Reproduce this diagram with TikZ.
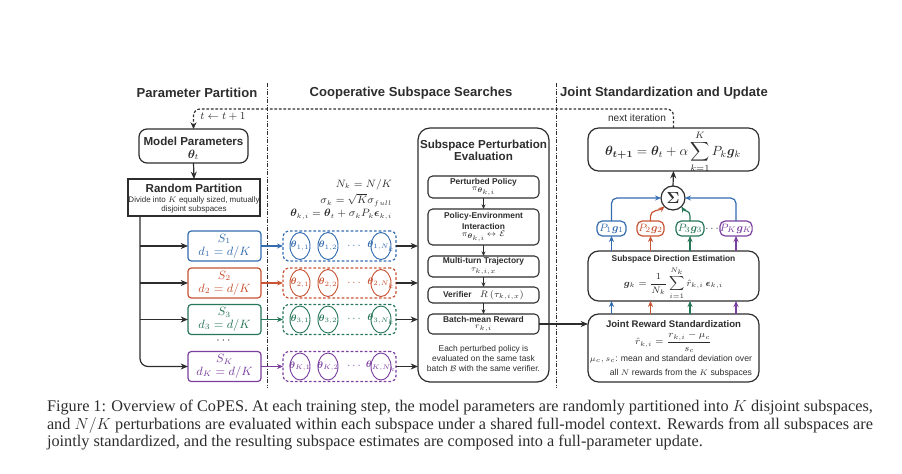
\documentclass[tikz,border=0pt]{standalone}
\usepackage{amsmath,amssymb,bm}
\usepackage{fontspec}
\setmainfont{Liberation Serif}
\setsansfont{Liberation Sans}
\usetikzlibrary{arrows.meta,calc,shapes.geometric}
\definecolor{dk}{RGB}{45,45,45}
\definecolor{cb}{RGB}{52,108,176}
\definecolor{cr}{RGB}{200,84,52}
\definecolor{cg}{RGB}{38,118,88}
\definecolor{cp}{RGB}{122,62,158}
\begin{document}
\begin{tikzpicture}[x=0.75pt,y=-0.75pt,
  every node/.style={font=\sffamily, text=dk, inner sep=0pt, outer sep=0pt},
  wh/.style 2 args={minimum width=#1*0.75pt, minimum height=#2*0.75pt},
  box/.style={draw=dk, line width=0.9pt, fill=white, align=center},
  ttl/.style={font=\sffamily\bfseries\fontsize{9.8}{11}\selectfont},
  hdr/.style={font=\sffamily\bfseries\fontsize{8.7}{7.6}\selectfont, align=center},
  ib/.style={font=\sffamily\bfseries\fontsize{6.3}{7}\selectfont},
  sm/.style={font=\sffamily\fontsize{6.3}{7.8}\selectfont, align=center},
  mth/.style={font=\fontsize{7.6}{9}\selectfont},
  darr/.style={draw=dk, line width=0.9pt, -{Stealth[length=5.5pt,width=4.5pt]}},
  sarr/.style={draw=dk, line width=0.7pt, -{Stealth[length=3.5pt,width=3pt]}},
  carr/.style={line width=0.9pt, -{Stealth[length=4.5pt,width=3.8pt]}},
  sep/.style={draw=dk, line width=0.7pt, dash pattern=on 3pt off 1.2pt on 0.6pt off 1.2pt},
  loop/.style={draw=dk, line width=0.9pt, dash pattern=on 2pt off 1.4pt, rounded corners=5pt, -{Stealth[length=5pt,width=4.5pt]}},
  sbox/.style={line width=0.9pt, fill=white, wh={73}{30}, rounded corners=2.5pt, align=center, font=\fontsize{9}{9.6}\selectfont},
  gbox/.style={line width=0.9pt, dashed, dash pattern=on 2pt off 1.5pt, wh={113}{30}, rounded corners=4pt},
  th/.style={ellipse, line width=0.7pt, wh={20}{27}, font=\fontsize{7.5}{8}\selectfont},
  pbox/.style={line width=0.9pt, fill=white, wh={28}{15}, rounded corners=4pt, font=\fontsize{8.5}{9}\selectfont},
  captxt/.style={font=\rmfamily\fontsize{12.2}{14}\selectfont, anchor=base west},
]
\useasboundingbox (0,0) rectangle (902,474);

% titles
\node[ttl] (t1) at (197,93) {Parameter Partition};
\node[ttl] (t2) at (411,93) {Cooperative Subspace Searches};
\node[ttl] (t3) at (664,93) {Joint Standardization and Update};

% separators
\coordinate (sa1) at (267,83); \coordinate (sa2) at (267,388);
\coordinate (sb1) at (556,83); \coordinate (sb2) at (556,388);
\draw[sep] (sa1) -- (sa2);
\draw[sep] (sb1) -- (sb2);

% left column
\node[box, wh={109}{34}, rounded corners=6pt] (mp) at (193.5,146) {};
\node[hdr] (mpt) at (193.5,141) {Model Parameters};
\node[font=\fontsize{8.7}{9}\selectfont] (mpth) at (193.5,155) {$\bm{\theta}_t$};
\node[box, wh={132}{37}] (rp) at (194,197.5) {};
\node[hdr] (rpt) at (194,188) {Random Partition};
\node[font=\sffamily\fontsize{6}{7}\selectfont] (rpa) at (194,200) {Divide into $K$ equally sized, mutually};
\node[font=\sffamily\fontsize{6}{7}\selectfont] (rpb) at (194,209) {disjoint subspaces};
\draw[darr] (mp.south) -- (rp.north);

% loop
\coordinate (loopy) at (0,109);
\node[box, wh={171}{43}, rounded corners=8pt] (upd) at (673.5,149.5) {};
\node[font=\fontsize{10}{12}\selectfont] (updf) at (673,151.5)
  {$\displaystyle \bm{\theta}_{\bm{t+1}} = \bm{\theta}_t + \alpha\sum_{k=1}^{K} P_k\bm{g}_k$};
\draw[loop] (upd.north) -- (upd.north |- loopy) -- (mp.north |- loopy) -- (mp.north);
\node[mth] (tl) at (223,117) {$t \leftarrow t+1$};
\node[font=\sffamily\fontsize{7.6}{9}\selectfont] (ni) at (637,118) {next iteration};

% middle annotations
\node[mth, anchor=east] (n1) at (392,184.5) {$N_k = N/K$};
\node[mth, anchor=east] (n2) at (392,200) {$\sigma_k = \sqrt{K}\sigma_{full}$};
\node[mth, anchor=east] (n3) at (392,214.5) {$\bm{\theta}_{k,i} = \bm{\theta}_t + \sigma_k P_k \bm{\epsilon}_{k,i}$};

% evaluation column
\node[box, wh={131}{254}, rounded corners=9pt] (ev) at (483.5,255) {};
\node[hdr] (evt) at (483.5,150) {Subspace Perturbation\\Evaluation};
\node[box, wh={111}{22}, rounded corners=3.5pt, line width=0.8pt] (pp) at (483.5,187) {};
\node[ib] (ppa) at (483.5,182) {Perturbed Policy};
\node[font=\fontsize{6}{7}\selectfont] (ppb) at (483.5,191.5) {$\pi_{\bm{\theta}_{k,i}}$};
\node[box, wh={111}{36}, rounded corners=3.5pt, line width=0.8pt] (pei) at (483.5,227) {};
\node[ib] (peia) at (483.5,216) {Policy-Environment};
\node[ib] (peib) at (483.5,226) {Interaction};
\node[font=\fontsize{6.3}{7}\selectfont] (peic) at (483.5,236.5) {$\pi_{\bm{\theta}_{k,i}}\!\leftrightarrow\mathcal{E}$};
\node[box, wh={111}{21}, rounded corners=3.5pt, line width=0.8pt] (mt) at (483.5,266.5) {};
\node[ib] (mta) at (483.5,261.5) {Multi-turn Trajectory};
\node[font=\fontsize{6.3}{7}\selectfont] (mtb) at (483.5,271) {$\tau_{k,i,x}$};
\node[box, wh={111}{16}, rounded corners=3.5pt, line width=0.8pt] (ver) at (483.5,295) {};
\node[ib] (vera) at (483.5,295) {Verifier\quad{\mdseries\fontsize{7.5}{8}\selectfont $R\left(\tau_{k,i,x}\right)$}};
\node[box, wh={111}{20}, rounded corners=3.5pt, line width=0.8pt] (bmr) at (483.5,324) {};
\node[ib] (bmra) at (483.5,319) {Batch-mean Reward};
\node[font=\fontsize{6.3}{7}\selectfont] (bmrb) at (483.5,328.5) {$r_{k,i}$};
\draw[sarr] (pp.south) -- (pei.north);
\draw[sarr] (pei.south) -- (mt.north);
\draw[sarr] (mt.south) -- (ver.north);
\draw[sarr] (ver.south) -- (bmr.north);
\node[sm] (evn) at (483.5,358.5) {Each perturbed policy is\\evaluated on the same task\\batch $\mathcal{B}$ with the same verifier.};

% trunk
\coordinate (tk) at ($(rp.south west)+(12,0)$);
\node[font=\fontsize{9}{9}\selectfont] (sdots) at (224.5,341) {$\cdots$};

% subspace rows
\foreach \i/\y/\c in {1/246/cb,2/283/cr,3/319.5/cg,K/366.5/cp}{
  \node[sbox, draw=\c, text=\c] (s\i) at (224.5,\y) {$S_{\i}$\\$d_{\i} = d/K$};
  \node[gbox, draw=\c] (g\i) at (339.5,\y) {};
  \node[th, draw=\c, text=\c] (ea\i) at (300,\y) {\makebox[0pt]{$\bm{\theta}_{\i,1}$}};
  \node[th, draw=\c, text=\c] (eb\i) at (328,\y) {\makebox[0pt]{$\bm{\theta}_{\i,2}$}};
  \node[text=\c, font=\fontsize{8}{8}\selectfont] (ed\i) at (355,\y) {$\cdots$};
  \node[th, draw=\c, text=\c] (ec\i) at (381,\y) {\makebox[0pt]{$\bm{\theta}_{\i,N_k}$}};
  \draw[carr, \c] (s\i.east) -- (g\i.west);
  \draw[darr] (g\i.east) -- (g\i.east -| ev.west);
}
\draw[draw=dk, line width=0.9pt, rounded corners=6pt, -{Stealth[length=5.5pt,width=4.5pt]}] (tk) |- (sK.west);
\foreach \i in {1,2,3}{ \draw[darr] (tk |- s\i.west) -- (s\i.west); }

% right column
\node[circle, draw=dk, line width=0.9pt, minimum size=24*0.75pt, font=\fontsize{13}{14}\selectfont] (sig) at (673,198) {$\bm{\Sigma}$};
\draw[darr] (sig.north) -- (upd.south);
\node[pbox, draw=cb, text=cb, wh={29}{15}] (p1) at (611.5,228.5) {$P_1\bm{g}_1$};
\node[pbox, draw=cr, text=cr, wh={27}{15}] (p2) at (650.5,228.5) {$P_2\bm{g}_2$};
\node[pbox, draw=cg, text=cg, wh={28}{15}] (p3) at (690,228.5) {$P_3\bm{g}_3$};
\node[font=\fontsize{8}{8}\selectfont] (pd) at (713,229) {$\cdots$};
\node[pbox, draw=cp, text=cp, wh={28}{15}] (pK) at (736,228.5) {$P_K\bm{g}_K$};
\draw[carr, cb, rounded corners=4pt] (p1.north) |- (sig.west);
\draw[carr, cb, rounded corners=4pt] (pK.north) |- (sig.east);
\draw[carr, cr] (p2.north) -- ($(p2.north)+(0,-5)$) .. controls ($(p2.north)+(0,-11)$) and ($(sig.south west)+(-5,4)$) .. (sig.south west);
\draw[carr, cg] (p3.north) -- ($(p3.north)+(0,-5)$) .. controls ($(p3.north)+(0,-11)$) and ($(sig.south east)+(3,5)$) .. (sig.south east);

\node[box, wh={171}{50}, rounded corners=8pt] (dir) at (673.5,276) {};
\node[ib] (dirt) at (673.5,259) {Subspace Direction Estimation};
\node[font=\fontsize{7.5}{8}\selectfont] (dirf) at (673.5,283) {$\displaystyle \bm{g}_k = \frac{1}{N_k}\sum_{i=1}^{N_k}\hat{r}_{k,i}\,\bm{\epsilon}_{k,i}$};
\node[box, wh={171}{68}, rounded corners=8pt] (jrs) at (673.5,348) {};
\node[font=\sffamily\bfseries\fontsize{7.2}{8}\selectfont] (jrst) at (673.5,324) {Joint Reward Standardization};
\node[font=\fontsize{7.5}{8}\selectfont] (jrsf) at (673.5,342.5) {$\displaystyle \hat{r}_{k,i} = \frac{r_{k,i}-\mu_c}{s_c}$};
\node[font=\sffamily\fontsize{6.5}{10.5}\selectfont, align=right, anchor=east] (jrsn) at (752,366) {$\mu_c, s_c$: mean and standard deviation over\\all $N$ rewards from the $K$ subspaces};
\foreach \p/\c in {p1/cb,p2/cr,p3/cg,pK/cp}{
  \draw[carr, \c] (\p.south |- dir.north) -- (\p.south);
  \draw[carr, \c] (\p.south |- jrs.north) -- (\p.south |- dir.south);
}
\draw[darr] (bmr.east) -- (bmr.east -| jrs.west);

% caption
\node[captxt] (c1) at (47,411) {\makebox[619.5pt][s]{Figure 1: Overview of CoPES. At each training step, the model parameters are randomly partitioned into $K$ disjoint subspaces,}};
\node[captxt] (c2) at (47,429) {\makebox[619.5pt][s]{and $N/K$ perturbations are evaluated within each subspace under a shared full-model context. Rewards from all subspaces are}};
\node[captxt] (c3) at (47,446) {jointly standardized, and the resulting subspace estimates are composed into a full-parameter update.};
\end{tikzpicture}
\end{document}
